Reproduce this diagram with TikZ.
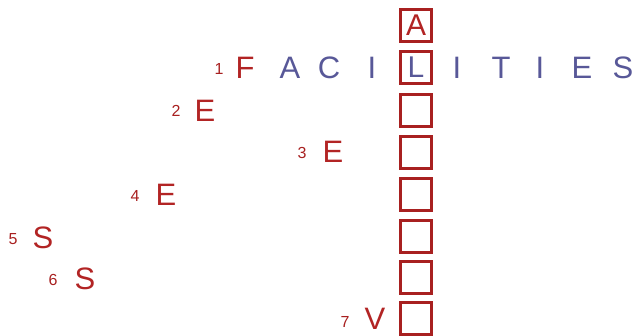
\documentclass[tikz,border=0pt]{standalone}
\usepackage{fontspec}
\setmainfont{Liberation Sans}
\definecolor{redL}{RGB}{178,36,36}
\definecolor{redB}{RGB}{168,32,32}
\definecolor{blueL}{RGB}{88,88,152}
\begin{document}
\begin{tikzpicture}[x=1pt,y=-1pt,
  cell/.style={draw=redB,line width=3pt,minimum width=31pt,minimum height=32pt,inner sep=0pt,font=\fontsize{30}{30}\selectfont},
  rl/.style={text=redL,inner sep=0pt,font=\fontsize{31}{31}\selectfont},
  bl/.style={text=blueL,inner sep=0pt,font=\fontsize{31}{31}\selectfont},
  num/.style={text=redB,inner sep=0pt,font=\fontsize{16}{16}\selectfont}]
\useasboundingbox (0,0) rectangle (636,335);
% column of boxes
\node[cell,text=redL] (c1) at (416,25) {A};
\node[cell,text=blueL] (c2) at (416,67.5) {L};
\node[cell] (c3) at (416,110) {};
\node[cell] (c4) at (416,152) {};
\node[cell] (c5) at (416,194) {};
\node[cell] (c6) at (416,236) {};
\node[cell] (c7) at (416,277.5) {};
\node[cell] (c8) at (416,318) {};
% row 1: FACILITIES
\node[num] (n1) at (219,69) {1};
\node[rl] (f1) at (245,67.5) {F};
\node[bl] (f2) at (290,67.5) {A};
\node[bl] (f3) at (329,67.5) {C};
\node[bl] (f4) at (372,67.5) {I};
\node[bl] (f6) at (457,67.5) {I};
\node[bl] (f7) at (501,67.5) {T};
\node[bl] (f8) at (540,67.5) {I};
\node[bl] (f9) at (582,67.5) {E};
\node[bl] (f10) at (623,67.5) {S};
% other rows
\node[num] (n2) at (176,111) {2};
\node[rl] (e2) at (205,110.5) {E};
\node[num] (n3) at (302,153) {3};
\node[rl] (e3) at (333,152) {E};
\node[num] (n4) at (135,196) {4};
\node[rl] (e4) at (166,195) {E};
\node[num] (n5) at (13,239) {5};
\node[rl] (e5) at (43,238) {S};
\node[num] (n6) at (53,280) {6};
\node[rl] (e6) at (85,279) {S};
\node[num] (n7) at (345,322) {7};
\node[rl] (e7) at (375,319) {V};
\end{tikzpicture}
\end{document}
